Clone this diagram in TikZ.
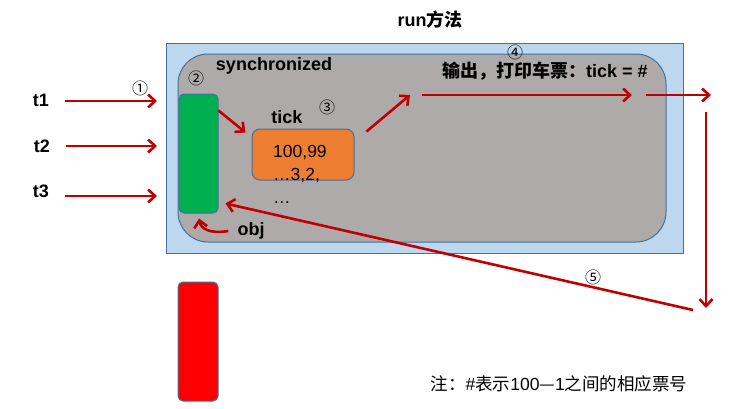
\documentclass[tikz,border=0pt]{standalone}
\usepackage{fontspec}
\setmainfont{Liberation Sans}
\newfontfamily\cjk{Noto Sans CJK SC}
\usetikzlibrary{arrows.meta, positioning}
\definecolor{arrowred}{HTML}{C00000}
\definecolor{edgeblue}{HTML}{41719C}
\definecolor{paleblue}{HTML}{BDD7EE}
\definecolor{lockgray}{HTML}{AEAAAA}
\definecolor{lockgreen}{HTML}{00B050}
\definecolor{tickorange}{HTML}{ED7D31}

\begin{document}
\begin{tikzpicture}[
        x=1pt, y=-1pt,
        >={Straight Barb[length=7pt, width=13pt]},
        flow/.style={->, draw=arrowred, line width=2.6pt},
        panel/.style={rectangle, draw=edgeblue, line width=1pt, inner sep=0pt},
        lbl/.style={font=\fontsize{18}{21}\selectfont\bfseries, inner sep=0pt},
        plain/.style={font=\fontsize{17.5}{23}\selectfont, inner sep=0pt},
        stepno/.style={font=\fontsize{16}{18}\selectfont\cjk, inner sep=0pt}
    ]
        \useasboundingbox (0,0) rectangle (737,408);

        % boxes
        \node[panel, fill=paleblue, minimum width=517pt, minimum height=210pt] (run) at (424.5,148) {};
        \node[panel, fill=lockgray, rounded corners=30pt, minimum width=488pt, minimum height=188pt] (sync) at (422,148) {};
        \node[panel, fill=lockgreen, rounded corners=5pt, minimum width=39pt, minimum height=119pt] (lock) at (198.5,153.5) {};
        \node[panel, fill=red, rounded corners=5pt, minimum width=40pt, minimum height=119pt] (idle) at (198,341.5) {};
        \node[panel, fill=tickorange, rounded corners=8pt, minimum width=102pt, minimum height=51pt] (tick) at (303,154.5) {};

        % labels
        \node[lbl] (title) at (430,20) {run{\cjk 方法}};
        \node[lbl] (synclbl) at (274,66) {synchronized};
        \node[lbl] (ticklbl) at (287,117) {tick};
        \node[lbl] (objlbl) at (251,231) {obj};
        \node[lbl] (out) at (545,71) {{\cjk 输出，打印车票：}tick = \#};
        \node[lbl] (t1) at (41,100) {t1};
        \node[lbl] (t2) at (42,146) {t2};
        \node[lbl] (t3) at (41,191) {t3};
        \node[plain, align=left, anchor=north west] (vals) at (273,145) {100,99\\…3,2,\\…};
        \node[plain] (note) at (559,384) {{\cjk 注：}\#{\cjk 表示}100{\cjk —}1{\cjk 之间的相应票号}};

        % step numbers
        \node[stepno] (s1) at (140,88) {①};
        \node[stepno] (s2) at (196,78) {②};
        \node[stepno] (s3) at (327,107) {③};
        \node[stepno] (s4) at (515,52) {④};
        \node[stepno] (s5) at (593,277) {⑤};

        % arrow ends
        \coordinate (in1) at (157,101);
        \coordinate (in2) at (157,146);
        \coordinate (in3) at (157,196);
        \coordinate (up) at (410,95);
        \coordinate (pa) at (422,95);
        \coordinate (pb) at (632,95);
        \coordinate (pc) at (646,95);
        \coordinate (pd) at (711,95);
        \coordinate (pe) at (706,112);
        \coordinate (pf) at (706,308);
        \coordinate (pg) at (693,310);

        \draw[flow, shorten <=16pt] (t1.east |- in1) -- (in1);
        \draw[flow, shorten <=16pt] (t2.east |- in2) -- (in2);
        \draw[flow, shorten <=16pt] (t3.east |- in3) -- (in3);
        \draw[flow] ([yshift=-17pt]lock.north east) -- ([xshift=-6pt, yshift=-4pt]tick.north west);
        \draw[flow] ([xshift=12pt, yshift=-3pt]tick.north east) -- (up);
        \draw[flow] (pa) -- (pb);
        \draw[flow] (pc) -- (pd);
        \draw[flow] (pe) -- (pf);
        \draw[flow] (pg) -- ([xshift=7pt, yshift=10pt]lock.south east);
        \draw[flow] ([xshift=-9pt]objlbl.west) .. controls (210,234) and (201,229) .. ([xshift=0.5pt, yshift=-5pt]lock.south);
    \end{tikzpicture}
\end{document}
